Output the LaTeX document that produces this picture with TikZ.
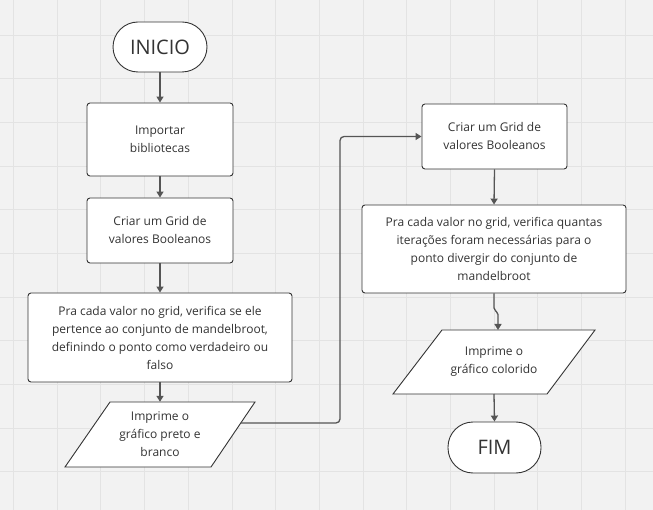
\documentclass[tikz,border=0pt]{standalone}
\usepackage{fontspec}
\setmainfont{Open Sans}
\usetikzlibrary{arrows.meta}
\definecolor{bgc}{HTML}{F2F2F2}
\definecolor{gridc}{HTML}{E3E3E3}
\definecolor{edgec}{HTML}{333333}
\definecolor{linec}{HTML}{555555}
\definecolor{txtc}{HTML}{333333}
\tikzset{
  box/.style={draw=edgec, fill=white, line width=0.9pt, rounded corners=3pt, align=center, text=txtc, font=\fontsize{12}{18}\selectfont, inner sep=0pt},
  term/.style={draw=edgec, fill=white, line width=0.9pt, rounded corners=25pt, align=center, text=txtc, font=\fontsize{20}{24}\selectfont, inner sep=0pt},
  para/.style={draw=edgec, fill=white, line width=0.9pt},
  ptext/.style={align=center, text=txtc, font=\fontsize{12}{18}\selectfont, inner sep=0pt},
  conn/.style={draw=linec, line width=1.3pt, -{Triangle[width=7pt,length=6pt]}},
}
\begin{document}
\begin{tikzpicture}[x=1pt,y=-1pt]
\fill[bgc] (0,0) rectangle (653,510);
\useasboundingbox (0,0) rectangle (653,510);
\foreach \k in {0,...,14} {
  \draw[gridc, line width=0.8pt] ({13.5+43.68*\k},0) -- ({13.5+43.68*\k},510);
}
\foreach \k in {0,...,10} {
  \draw[gridc, line width=0.8pt] (0,{35+43.68*\k}) -- (653,{35+43.68*\k});
}
% left column
\node[term, minimum width=94pt, minimum height=50pt] (inicio) at (160,47) {INICIO};
\node[box, minimum width=146pt, minimum height=73pt] (imp) at (160,139.5) {Importar\\bibliotecas};
\node[box, minimum width=146pt, minimum height=65pt] (grid1) at (160,230.5) {Criar um Grid de\\valores Booleanos};
\node[box, minimum width=264pt, minimum height=89pt] (pra1) at (160,337.5) {Pra cada valor no grid, verifica se ele\\pertence ao conjunto de mandelbroot,\\definindo o ponto como verdadeiro ou\\falso};
\draw[para] (110,402) -- (255,402) -- (211,467) -- (65,467) -- cycle;
\node[ptext, minimum width=100pt, minimum height=65pt] (out1) at (160,434.5) {Imprime o\\gráfico preto e\\branco};
\coordinate (out1r) at (240.5,423);
% right column
\node[box, minimum width=145pt, minimum height=65pt] (grid2) at (494.5,136.5) {Criar um Grid de\\valores Booleanos};
\node[box, minimum width=264pt, minimum height=88pt] (pra2) at (494,249) {Pra cada valor no grid, verifica quantas\\iterações foram necessárias para o\\ponto divergir do conjunto de\\mandelbroot};
\draw[para] (442,330) -- (595,330) -- (547,394) -- (393,394) -- cycle;
\node[ptext, minimum width=100pt, minimum height=64pt] (out2) at (494,362) {Imprime o\\gráfico colorido};
\node[term, minimum width=93pt, minimum height=51pt] (fim) at (494.5,447.5) {FIM};
% connectors
\draw[conn] (inicio.south) -- (imp.north);
\draw[conn] (imp.south) -- (grid1.north);
\draw[conn] (grid1.south) -- (pra1.north);
\draw[conn] (pra1.south) -- (out1.north);
\draw[conn, rounded corners=4pt] (out1r) -- (340,423) -- (340,136.5) -- (grid2.west);
\draw[conn] (grid2.south) -- (pra2.north);
\draw[conn, rounded corners=2pt] (pra2.south) -- (494,310) -- (498,312.5) -- (498,330);
\draw[conn] (494,394) -- (fim.north);
\end{tikzpicture}
\end{document}
